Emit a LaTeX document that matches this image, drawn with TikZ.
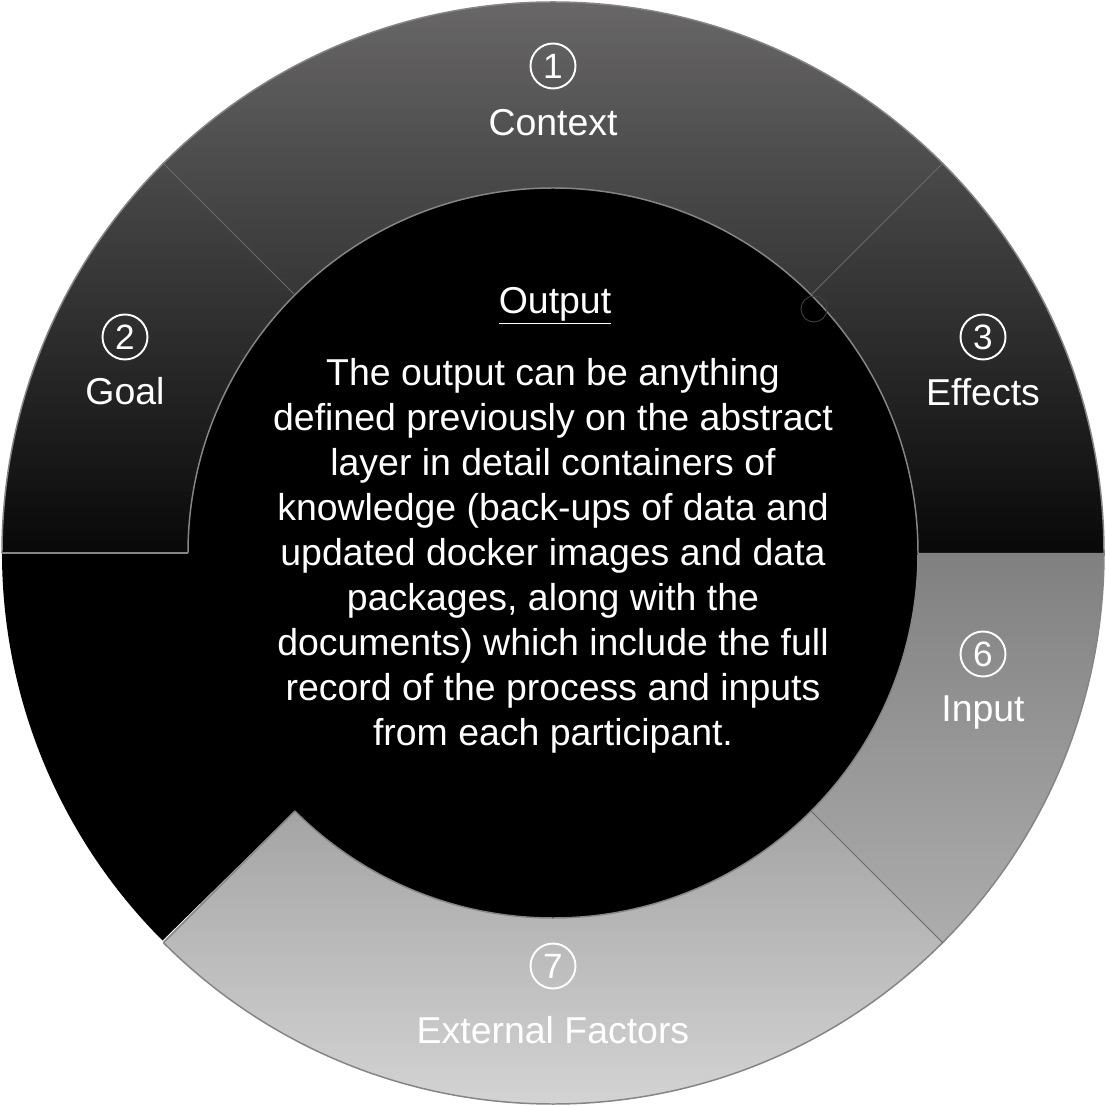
\documentclass[tikz,border=0pt]{standalone}
\usepackage{fontspec}
\setmainfont{Liberation Sans}
\definecolor{ctxtop}{HTML}{727070}
\definecolor{ctxbot}{HTML}{363636}
\definecolor{sidetop}{HTML}{4A4A4A}
\definecolor{sidebot}{HTML}{080808}
\definecolor{inptop}{HTML}{808080}
\definecolor{inpbot}{HTML}{ADADAD}
\definecolor{exttop}{HTML}{A4A4A4}
\definecolor{extbot}{HTML}{DCDCDC}
\definecolor{rimgray}{HTML}{858585}
\definecolor{splitgray}{HTML}{6A6A6A}
\newcommand{\rout}{11.02}
\newcommand{\rin}{7.3}
\newcommand{\lblfont}{\fontsize{21.3}{25.6}\selectfont}
\newcommand{\numfont}{\fontsize{20}{22}\selectfont}
\tikzset{
  rim/.style={draw=rimgray, line width=0.85pt},
  split/.style={draw=splitgray, line width=0.55pt},
  lbl/.style={text=white, font=\lblfont, inner sep=0pt, text height=0.537cm, text depth=0pt},
  num/.style={circle, draw=white, line width=1.1pt, minimum size=0.9cm, inner sep=0pt,
    text=white, font=\numfont},
}
\begin{document}
\begin{tikzpicture}
  \useasboundingbox (-11.06,-11.06) rectangle (11.06,11.06);
  % ring segments
  \shade[top color=ctxtop, bottom color=ctxbot]
    (45:\rin) -- (45:\rout) arc (45:135:\rout) -- (135:\rin) arc (135:45:\rin) -- cycle;
  \shade[top color=sidetop, bottom color=sidebot]
    (135:\rin) -- (135:\rout) arc (135:180:\rout) -- (180:\rin) arc (180:135:\rin) -- cycle;
  \shade[top color=sidetop, bottom color=sidebot]
    (0:\rin) -- (0:\rout) arc (0:45:\rout) -- (45:\rin) arc (45:0:\rin) -- cycle;
  \shade[top color=inptop, bottom color=inpbot]
    (-45:\rin) -- (-45:\rout) arc (-45:0:\rout) -- (0:\rin) arc (0:-45:\rin) -- cycle;
  \shade[top color=exttop, bottom color=extbot]
    (-135:\rin) -- (-135:\rout) arc (-135:-45:\rout) -- (-45:\rin) arc (-45:-135:\rin) -- cycle;
  \fill[black]
    (180:6.8) -- (180:\rout) arc (180:225:10.96) -- (225:6.8) arc (225:180:6.8) -- cycle;
  % centre disc
  \fill[black] (0,0) circle (\rin);
  \begin{scope}[rim]
    \draw (-135:\rin) arc (-135:180:\rin);
    \draw (-135:\rout) arc (-135:180:\rout);
    \draw (180:\rin) -- (180:\rout);
    \draw (225:\rin) -- (225:\rout);
  \end{scope}
  \begin{scope}[split]
    \draw (45:\rin) -- (45:\rout);
    \draw (135:\rin) -- (135:\rout);
    \draw (-45:\rin) -- (-45:\rout);
  \end{scope}
  \draw[draw=black!75, line width=0.5pt] (5.22,4.88) circle (0.26);
  % labels
  \node[num] (n1) at (0,9.74) {1};
  \node[lbl] (context) at (0,8.62) {Context};
  \node[num] (n2) at (-8.56,4.32) {2};
  \node[lbl] (goal) at (-8.56,3.24) {Goal};
  \node[num] (n3) at (8.6,4.32) {3};
  \node[lbl] (effects) at (8.6,3.22) {Effects};
  \node[num] (n6) at (8.6,-2.02) {6};
  \node[lbl] (input) at (8.6,-3.1) {Input};
  \node[num] (n7) at (0,-8.26) {7};
  \node[lbl] (external) at (0,-9.54) {External Factors};
  \node[lbl] (output) at (0.04,5.06) {\underline{Output}};
  \node[text=white, font=\lblfont, inner sep=0pt, align=center] (body) at (0,-0.05)
    {The output can be anything\\
     defined previously on the abstract\\
     layer in detail containers of\\
     knowledge (back-ups of data and\\
     updated docker images and data\\
     packages, along with the\\
     documents) which include the full\\
     record of the process and inputs\\
     from each participant.};
\end{tikzpicture}
\end{document}
